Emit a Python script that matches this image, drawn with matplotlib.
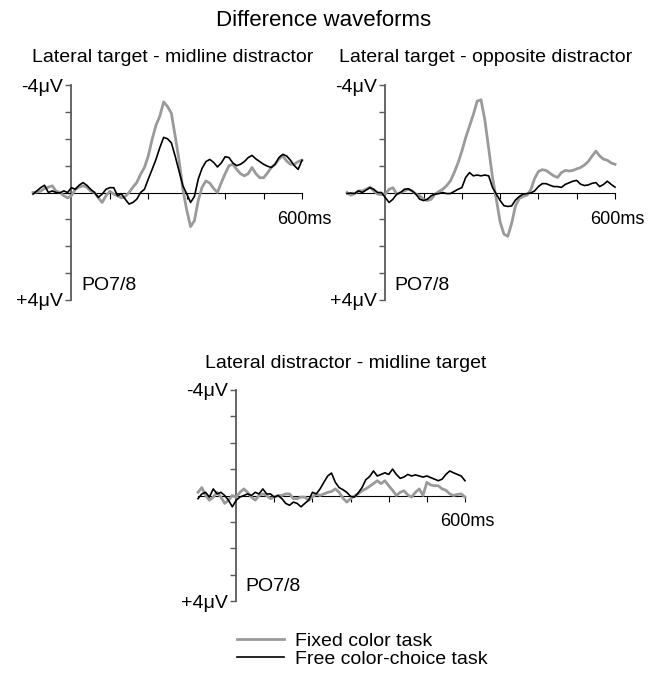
import numpy as np
import matplotlib
matplotlib.use("Agg")
import matplotlib.pyplot as plt

plt.rcParams['font.family'] = ['Liberation Sans', 'DejaVu Sans']

# time axis (ms), one sample every 10 ms
times = np.arange(-100, 601, 10)

# difference waves in microvolts (negative plotted up)
fixed_mid = [0, -0.02, -0.05, -0.15, -0.2, -0.25, -0.05, 0, 0.12, 0.2,
             0.12, -0.12, -0.2, -0.25, -0.2, -0.05, 0, 0.2, 0.37, 0.12,
             -0.05, 0.06, 0.12, 0.2, 0.15, 0, -0.2, -0.37, -0.68, -0.93,
             -1.36, -1.98, -2.5, -2.84, -3.37, -3.2, -2.95, -2.1, -1.2, -0.12,
             0.65, 1.27, 1.05, 0.3, -0.2, -0.43, -0.35, -0.15, 0.0, -0.37,
             -0.7, -1.0, -1.05, -0.86, -0.7, -0.62, -0.7, -0.93, -0.7, -0.55,
             -0.55, -0.72, -0.93, -1.05, -1.25, -1.36, -1.17, -1.05, -1.05, -1.15,
             -1.2]
free_mid = [0.06, -0.06, -0.18, -0.27, 0, -0.06, 0, 0.02, -0.06, 0,
            -0.18, -0.12, -0.27, -0.37, -0.27, -0.12, 0, 0.18, 0.06, -0.12,
            -0.18, -0.18, 0.12, 0.05, 0.25, 0.43, 0.37, 0.25, 0, -0.12,
            -0.5, -0.86, -1.23, -1.67, -2.05, -2.0, -1.85, -1.35, -0.8, -0.25,
            0.05, 0.37, 0.15, -0.5, -0.9, -1.15, -1.23, -1.12, -0.95, -1.1,
            -1.33, -1.3, -1.1, -1.0, -1.05, -1.15, -1.3, -1.38, -1.25, -1.15,
            -1.05, -0.98, -0.93, -1.05, -1.3, -1.42, -1.36, -1.2, -1.0, -0.86,
            -1.2]

fixed_opp = [0, 0.1, 0.04, -0.06, -0.06, -0.12, -0.2, -0.06, 0.06, 0.08,
             0.06, -0.12, -0.18, 0.06, 0, -0.06, -0.12, -0.06, 0.06, 0.12,
             0.25, 0.3, 0.25, 0.06, -0.04, -0.12, -0.25, -0.43, -0.74, -1.1,
             -1.54, -2.04, -2.47, -2.9, -3.4, -3.45, -2.7, -1.65, -0.56, 0.25,
             1.1, 1.55, 1.63, 1.15, 0.5, 0.22, 0.15, 0.1, -0.1, -0.52,
             -0.78, -0.85, -0.82, -0.72, -0.62, -0.56, -0.74, -0.82, -0.8, -0.82,
             -0.88, -0.93, -1.02, -1.15, -1.35, -1.54, -1.36, -1.24, -1.2, -1.1,
             -1.05]
free_opp = [0.04, 0.02, 0.04, -0.06, 0, -0.09, -0.18, -0.12, 0, 0,
            0.19, 0.37, 0.25, 0.06, 0, -0.12, -0.14, -0.06, 0.06, 0.25,
            0.3, 0.25, 0.12, 0.06, 0.04, 0, 0.04, 0.04, -0.04, -0.12,
            -0.18, -0.56, -0.74, -0.62, -0.65, -0.62, -0.65, -0.62, -0.19, 0.06,
            0.3, 0.49, 0.52, 0.5, 0.28, 0.15, 0.06, 0.04, 0.02, -0.06,
            -0.22, -0.33, -0.33, -0.27, -0.22, -0.22, -0.19, -0.3, -0.36, -0.42,
            -0.45, -0.31, -0.26, -0.28, -0.34, -0.37, -0.22, -0.3, -0.42, -0.3,
            -0.2]

fixed_dist = [-0.12, -0.3, 0, 0.18, 0.06, -0.12, 0.06, 0.3, 0.18, 0,
              0.06, -0.12, -0.25, -0.12, 0.06, 0.18, 0, -0.06, 0, 0.12,
              0.06, 0, 0, -0.06, -0.06, 0.12, 0.12, 0.06, 0.06, 0.18,
              0.06, -0.06, 0, -0.06, -0.12, -0.15, -0.25, -0.12, 0.1, 0.25,
              0.12, 0.02, -0.06, -0.18, -0.25, -0.35, -0.45, -0.56, -0.45, -0.56,
              -0.37, -0.2, 0, -0.12, -0.18, -0.02, 0.06, -0.12, -0.25, 0,
              -0.5, -0.4, -0.37, -0.37, -0.25, -0.2, -0.06, 0, -0.04, -0.06,
              0.06]
free_dist = [0.12, -0.06, -0.12, 0.06, -0.25, -0.06, -0.12, 0, 0.18, 0.43,
             0.18, 0.06, 0, -0.06, 0, -0.12, -0.06, -0.25, -0.06, -0.06,
             0.06, 0, 0.12, 0.3, 0.37, 0.25, 0.3, 0.43, 0.3, 0.18,
             -0.12, -0.06, -0.25, -0.5, -0.74, -0.85, -0.5, -0.3, -0.22, -0.12,
             0.03, 0.06, -0.1, -0.3, -0.6, -0.72, -0.93, -0.74, -0.8, -0.86,
             -0.8, -1.0, -0.8, -0.65, -0.7, -0.8, -0.74, -0.78, -0.74, -0.7,
             -0.74, -0.68, -0.62, -0.56, -0.62, -0.8, -0.93, -0.86, -0.8, -0.74,
             -0.56]

subtitles = ["Lateral target - midline distractor",
             "Lateral target - opposite distractor",
             "Lateral distractor - midline target"]
series_labels = ["Fixed color task", "Free color-choice task"]
y_ticks = [-4, -3, -2, -1, 0, 1, 2, 3, 4]
y_ticklabels = [u"-4\u03bcV", "", "", "", "", "", "", "", u"+4\u03bcV"]

W, H = 662, 678
GRAY = "#9a9a9a"
FS = 14


def px_axes(fig, left, right, top, bottom):
    return fig.add_axes([left / W, 1 - bottom / H, (right - left) / W, (bottom - top) / H])


def erp_panel(ax, fixed, free):
    l1, = ax.plot(times, fixed, color=GRAY, lw=2.0, clip_on=False, zorder=3)
    l2, = ax.plot(times, free, color="black", lw=1.2, clip_on=False, zorder=4)
    ax.set_xlim(-100, 600)
    ax.set_ylim(4, -4)
    for s in ("top", "right"):
        ax.spines[s].set_visible(False)
    ax.spines["left"].set_position(("data", 0))
    ax.spines["bottom"].set_position(("data", 0))
    ax.spines["left"].set_color("#5a5a5a")
    ax.spines["left"].set_linewidth(1.3)
    ax.spines["bottom"].set_linewidth(0.8)
    ax.set_xticks([100, 200, 300, 400, 500, 600])
    ax.set_xticklabels([])
    ax.tick_params(axis="x", direction="out", length=4, width=0.8)
    ax.set_yticks(y_ticks)
    ax.set_yticklabels(y_ticklabels, fontsize=FS)
    ax.tick_params(axis="y", direction="out", length=4, width=1.0, color="#5a5a5a", pad=2)
    ax.text(535, 1.0, "600ms", fontsize=13, ha="left", va="center")
    ax.text(25, 3.45, "PO7/8", fontsize=FS, ha="left", va="center")
    ax.patch.set_visible(False)
    return l1, l2


fig = plt.figure(figsize=(W / 100, H / 100), dpi=100)

ax1 = px_axes(fig, 33, 302, 85, 300)
ax2 = px_axes(fig, 347, 615, 85, 300)
ax3 = px_axes(fig, 198, 465, 390, 601)

erp_panel(ax1, fixed_mid, free_mid)
erp_panel(ax2, fixed_opp, free_opp)
h1, h2 = erp_panel(ax3, fixed_dist, free_dist)

fig.text(324 / W, 1 - 20 / H, "Difference waveforms", fontsize=16, ha="center", va="center")
fig.text(32 / W, 1 - 58 / H, subtitles[0], fontsize=FS, ha="left", va="center")
fig.text(339 / W, 1 - 58 / H, subtitles[1], fontsize=FS, ha="left", va="center")
fig.text(205 / W, 1 - 363 / H, subtitles[2], fontsize=FS, ha="left", va="center")

fig.legend([h1, h2], series_labels, loc="upper left",
           bbox_to_anchor=(237 / W, 1 - 632 / H), frameon=False, fontsize=FS,
           handlelength=2.4, handletextpad=0.6, labelspacing=0.05,
           borderpad=0, borderaxespad=0)

fig.savefig("out.png", dpi=100)
